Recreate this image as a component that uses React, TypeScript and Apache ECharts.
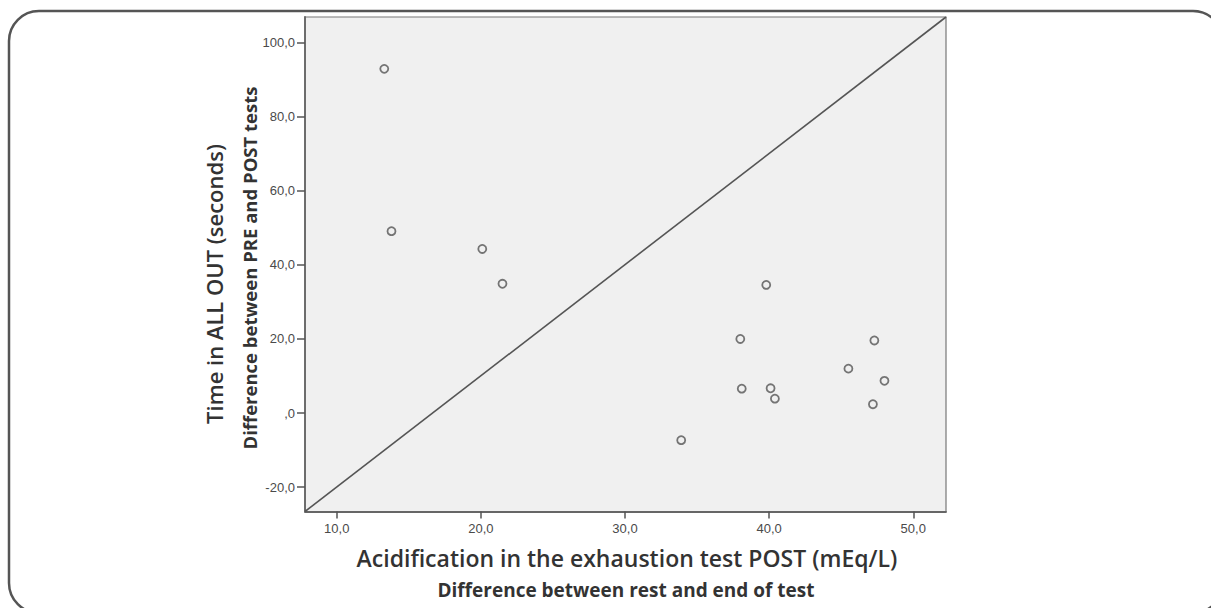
import React, { useEffect, useRef } from "react";
import * as echarts from "echarts";

const acidification = [13.3, 13.8, 20.1, 21.5, 33.9, 38.0, 38.1, 39.8, 40.1, 40.4, 45.5, 47.2, 47.3, 48.0];
const timeDiff = [92.9, 49.1, 44.3, 34.9, -7.3, 20.0, 6.6, 34.6, 6.7, 3.9, 12.0, 2.4, 19.6, 8.7];
const xTicks = [10, 20, 30, 40, 50];
const yTicks = [-20, 0, 20, 40, 60, 80, 100];
const xMin = 7.8;
const xMax = 52.27;
const yMin = -26.56;
const yMax = 106.9;

const xTitle = "Acidification in the exhaustion test POST (mEq/L)";
const xSubtitle = "Difference between rest and end of test";
const yTitle = "Time in ALL OUT (seconds)";
const ySubtitle = "Difference between PRE and POST tests";

const fmt = (v: number) => (v === 0 ? ",0" : v.toFixed(1).replace(".", ","));

export default function App() {
  const ref = useRef<HTMLDivElement>(null);
  useEffect(() => {
    document.body.style.margin = "0";
    const chart = echarts.init(ref.current!, null, { renderer: "svg" });
    const points = acidification.map((x, i) => [x, timeDiff[i]]);
    chart.setOption({
      animation: false,
      backgroundColor: "#ffffff",
      grid: {
        left: 305,
        top: 17,
        width: 641,
        height: 494.5,
        show: true,
        backgroundColor: "#f0f0f0",
        borderColor: "#777",
        borderWidth: 1.2,
      },
      xAxis: {
        type: "value",
        min: xMin,
        max: xMax,
        splitLine: { show: false },
        axisLine: { show: true, onZero: false, lineStyle: { color: "#666", width: 1.8 } },
        axisTick: { show: true, customValues: xTicks, length: 7, lineStyle: { color: "#555", width: 1.5 } },
        axisLabel: {
          customValues: xTicks,
          formatter: fmt,
          margin: 10,
          color: "#4a4a4a",
          fontSize: 13,
          fontFamily: "Liberation Sans",
        },
      },
      yAxis: {
        type: "value",
        min: yMin,
        max: yMax,
        splitLine: { show: false },
        axisLine: { show: true, onZero: false, lineStyle: { color: "#666", width: 1.8 } },
        axisTick: { show: true, customValues: yTicks, length: 8, lineStyle: { color: "#555", width: 1.5 } },
        axisLabel: {
          customValues: yTicks,
          formatter: fmt,
          margin: 10,
          color: "#4a4a4a",
          fontSize: 13,
          fontFamily: "Liberation Sans",
        },
      },
      series: [
        {
          type: "line",
          data: [
            [xMin, yMin],
            [xMax, yMax],
          ],
          symbol: "none",
          silent: true,
          lineStyle: { color: "#555", width: 1.6 },
        },
        {
          type: "scatter",
          data: points,
          symbol: "circle",
          symbolSize: 8,
          itemStyle: { color: "rgba(0,0,0,0)", borderColor: "#555", borderWidth: 1.8 },
        },
      ],
      graphic: [
        {
          type: "rect",
          shape: { x: 9, y: 11, width: 1214, height: 602, r: 30 },
          style: { fill: "none", stroke: "#555", lineWidth: 2.5 },
          silent: true,
        },
        {
          type: "text",
          x: 627,
          y: 558,
          style: {
            text: xTitle,
            font: "600 23px 'Open Sans'",
            fill: "#333",
            align: "center",
            verticalAlign: "middle",
          },
        },
        {
          type: "text",
          x: 626,
          y: 590,
          style: {
            text: xSubtitle,
            font: "bold 19px 'Open Sans'",
            fill: "#333",
            align: "center",
            verticalAlign: "middle",
          },
        },
        {
          type: "text",
          x: 214,
          y: 284,
          rotation: Math.PI / 2,
          style: {
            text: yTitle,
            font: "600 22px 'Open Sans'",
            fill: "#333",
            align: "center",
            verticalAlign: "middle",
          },
        },
        {
          type: "text",
          x: 249,
          y: 268,
          rotation: Math.PI / 2,
          style: {
            text: ySubtitle,
            font: "bold 18.5px 'Open Sans'",
            fill: "#333",
            align: "center",
            verticalAlign: "middle",
          },
        },
      ],
    });
    return () => chart.dispose();
  }, []);
  return <div ref={ref} style={{ width: 1211, height: 608 }} />;
}
